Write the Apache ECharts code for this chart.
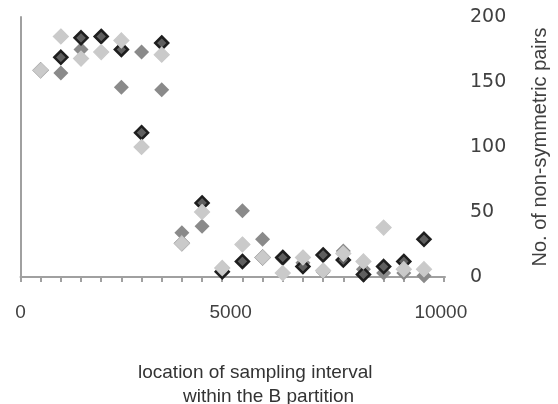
<!DOCTYPE html>
<html>
<head>
<meta charset="utf-8">
<script src="https://cdn.jsdelivr.net/npm/echarts@6/dist/echarts.min.js"></script>
<style>
  html, body { margin: 0; padding: 0; background: #fff; }
  #main { width: 558px; height: 404px; }
</style>
</head>
<body>
<div id="main"></div>
<script>
// 采样区间位置 (x)
var xPos = [480, 960, 1440, 1920, 2400, 2880, 3360, 3840, 4320, 4800,
    5280, 5760, 6240, 6720, 7200, 7680, 8160, 8640, 9120, 9600];
// 三组数据, 从图上读出来的
var darkVals = [159, 169, 184, 185, 175, 111, 180, 26, 57, 4, 12, 15, 15, 8, 17, 13, 2, 8, 12, 29];
var midVals = [159, 157, 175, 185, 146, 173, 144, 34, 39, 7, 51, 29, 14, 11, 4, 20, 6, 3, 3, 1];
var lightVals = [159, 185, 168, 173, 182, 100, 171, 26, 50, 7, 25, 15, 3, 15, 5, 18, 12, 38, 6, 6];
// 刻度
var xLabels = [0, 5000, 10000];
var xTicks = [0, 480, 960, 1440, 1920, 2400, 2880, 3360, 3840, 4320, 4800,
    5280, 5760, 6240, 6720, 7200, 7680, 8160, 8640, 9120, 9600, 10080];

function pairs(vals) {
    var arr = [];
    xPos.forEach(function (x, i) {
        arr.push([x, vals[i]]);
    });
    return arr;
}

var myChart = echarts.init(document.getElementById('main'));

var option = {
    animation: false,
    title: [{
        text: 'location of sampling interval',
        left: 133,
        top: 358,
        textStyle: { fontFamily: 'Liberation Sans', fontSize: 19, fontWeight: 'normal', color: '#333' }
    }, {
        text: 'within the B partition',
        left: 178,
        top: 382,
        textStyle: { fontFamily: 'Liberation Sans', fontSize: 19, fontWeight: 'normal', color: '#333' }
    }],
    grid: { left: 20.5, right: 106.7, top: 17, bottom: 127 },
    xAxis: {
        type: 'value',
        min: 0,
        max: 10100,
        splitLine: { show: false },
        axisLine: { lineStyle: { color: '#a0a0a0', width: 2 } },
        axisTick: {
            show: true,
            customValues: xTicks,
            length: 5,
            lineStyle: { color: '#a0a0a0', width: 2 }
        },
        axisLabel: {
            customValues: xLabels,
            margin: 26,
            fontFamily: 'Liberation Sans',
            fontSize: 19,
            color: '#404040',
            formatter: function (v) { return String(v); }
        }
    },
    yAxis: {
        type: 'value',
        position: 'right',
        min: 0,
        max: 200,
        interval: 50,
        name: 'No. of non-symmetric pairs',
        nameLocation: 'middle',
        nameRotate: 90,
        nameGap: 85,
        nameTextStyle: { fontFamily: 'Liberation Sans', fontSize: 20, color: '#404040' },
        splitLine: { show: false },
        axisTick: { show: false },
        axisLine: { show: true, lineStyle: { color: '#a0a0a0', width: 2 } },
        axisLabel: {
            margin: 25,
            fontFamily: 'DejaVu Sans',
            fontSize: 19,
            color: '#404040'
        }
    },
    series: [{
        type: 'scatter',
        symbol: 'diamond',
        symbolSize: 15,
        z: 2,
        data: pairs(midVals),
        itemStyle: { color: '#8a8a8a', opacity: 1 }
    }, {
        type: 'scatter',
        symbol: 'diamond',
        symbolSize: 13,
        z: 3,
        data: pairs(darkVals),
        itemStyle: { color: '#5f5f5f', borderColor: '#1e1e1e', borderWidth: 2.5, opacity: 1 }
    }, {
        type: 'scatter',
        symbol: 'diamond',
        symbolSize: 15,
        z: 4,
        data: pairs(lightVals),
        itemStyle: { color: '#cacaca', borderColor: '#cacaca', borderWidth: 1.2, opacity: 1 }
    }]
};

myChart.setOption(option);
</script>
</body>
</html>
